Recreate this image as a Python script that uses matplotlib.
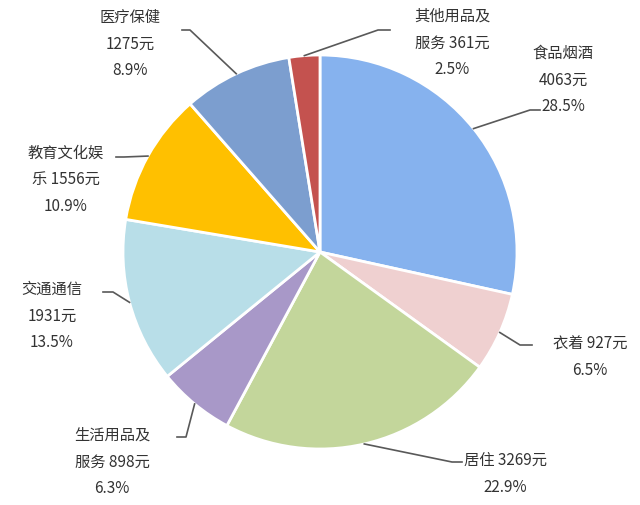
import matplotlib
matplotlib.use("Agg")
import matplotlib.pyplot as plt
import numpy as np

plt.rcParams['font.family'] = ['Noto Sans CJK SC', 'DejaVu Sans']

# data
names = ['食品烟酒', '衣着', '居住', '生活用品及服务', '交通通信', '教育文化娱乐', '医疗保健', '其他用品及服务']
values = [4063, 927, 3269, 898, 1931, 1556, 1275, 361]
label_texts = ['食品烟酒\n4063元\n28.5%', '衣着 927元\n6.5%', '居住 3269元\n22.9%',
               '生活用品及\n服务 898元\n6.3%', '交通通信\n1931元\n13.5%',
               '教育文化娱\n乐 1556元\n10.9%', '医疗保健\n1275元\n8.9%',
               '其他用品及\n服务 361元\n2.5%']
colors = ['#86B2EE', '#EFD0D0', '#C3D69B', '#A898C8', '#B8DEE8', '#FFC000', '#7C9ECF', '#C4524F']

W, H = 640, 505
CX, CY, R = 320, 252, 197

fig = plt.figure(figsize=(6.4, 5.05), dpi=100)
ax = fig.add_axes([(CX - R) / W, 1 - (CY + R) / H, 2 * R / W, 2 * R / H])
wedges, _ = ax.pie(values, colors=colors, startangle=90, counterclock=False,
                   wedgeprops=dict(edgecolor='white', linewidth=2))
ax.set_xlim(-1, 1)
ax.set_ylim(-1, 1)


def d(px, py):
    # pixel position -> data coords
    return ((px - CX) / R, (CY - py) / R)


# text centre, leader elbow, leader end (pixels)
label_pos = [
    ((563, 80), (530, 110), (540, 110)),
    ((590, 357), (520, 345), (532, 345)),
    ((505, 474), (452, 462), (462, 462)),
    ((112, 462), (186, 437), (177, 437)),
    ((52, 316), (113, 292), (103, 292)),
    ((66, 180), (124, 157), (116, 157)),
    ((130, 44), (190, 30), (182, 30)),
    ((452, 43), (378, 30), (390, 30)),
]

for w, txt, (tp, elbow, end) in zip(wedges, label_texts, label_pos):
    ang = np.deg2rad((w.theta1 + w.theta2) / 2)
    sx, sy = np.cos(ang), np.sin(ang)
    ex, ey = d(*elbow)
    nx, ny = d(*end)
    ax.plot([sx, ex, nx], [sy, ey, ny], color='#595959', lw=1.2, clip_on=False)
    tx, ty = d(*tp)
    ax.text(tx, ty, txt, ha='center', va='center', fontsize=11, fontweight='medium',
            color='#333333', linespacing=1.75, clip_on=False)

fig.savefig('out.png', dpi=100)
